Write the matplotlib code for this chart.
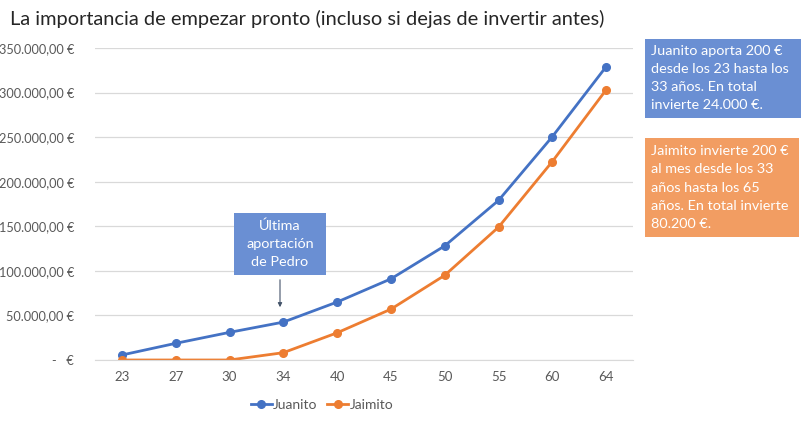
import matplotlib.pyplot as plt
from matplotlib.patches import Rectangle
from matplotlib.ticker import FuncFormatter, MultipleLocator

plt.rcParams['font.family'] = ['Lato', 'DejaVu Sans']

# edades (categorias del eje x)
edades = ['23', '27', '30', '34', '40', '45', '50', '55', '60', '64']

# capital acumulado
juanito = [5600, 18700, 31000, 42500, 65000, 91000, 128000, 179000, 250500, 329000]
jaimito = [0, 0, 0, 8200, 30500, 57000, 95000, 149000, 222600, 303000]

titulo = 'La importancia de empezar pronto (incluso si dejas de invertir antes)'
texto_juanito = 'Juanito aporta 200 €\ndesde los 23 hasta los\n33 años. En total\ninvierte 24.000 €.'
texto_jaimito = ('Jaimito invierte 200 €\nal mes desde los 33\naños hasta los 65\n'
                 'años. En total invierte\n80.200 €.')
texto_pedro = 'Última\naportación\nde Pedro'

W, H = 807, 423
fig = plt.figure(figsize=(W / 100, H / 100), dpi=100)
ax = fig.add_axes([95 / W, 1 - 360 / H, (633 - 95) / W, (360 - 48) / H])

azul = '#4472C4'
naranja = '#ED7D31'
x = range(len(edades))
ax.plot(x, juanito, color=azul, lw=2.0, marker='o', ms=5.5, label='Juanito')
ax.plot(x, jaimito, color=naranja, lw=2.0, marker='o', ms=5.5, label='Jaimito')

ax.set_xlim(-0.5, len(edades) - 0.5)
ax.set_ylim(0, 350000)
ax.set_xticks(list(x))
ax.set_xticklabels(edades)
ax.yaxis.set_major_locator(MultipleLocator(50000))


def euros(v, pos):
    if v == 0:
        return '-   €'
    s = f'{v:,.2f}'.replace(',', 'X').replace('.', ',').replace('X', '.')
    return s + ' €'


ax.yaxis.set_major_formatter(FuncFormatter(euros))
ax.grid(axis='y', color='#D9D9D9', lw=0.9)
ax.set_axisbelow(True)
for s in ['top', 'right', 'left']:
    ax.spines[s].set_visible(False)
ax.spines['bottom'].set_color('#D9D9D9')
ax.tick_params(axis='x', length=0, labelsize=9.5, colors='#595959', pad=8)
ax.tick_params(axis='y', length=0, labelsize=9.2, colors='#595959', pad=15)

fig.text(10 / W, 1 - 19 / H, titulo, fontsize=14.4, color='#262626', va='center')

leg = fig.legend(loc='center', bbox_to_anchor=(322 / W, 1 - 405 / H), ncol=2, frameon=False,
                 fontsize=10, handlelength=1.5, handletextpad=0.1, columnspacing=0.7,
                 labelcolor='#595959')


def caja(x0, y0, x1, y1, color):
    fig.patches.append(Rectangle((x0 / W, 1 - y1 / H), (x1 - x0) / W, (y1 - y0) / H,
                                 transform=fig.transFigure, facecolor=color,
                                 edgecolor='none', zorder=5))


caja(645, 39, 801, 118, '#6A8FD3')
fig.text(651 / W, 1 - 78 / H, texto_juanito, color='white', fontsize=10.4, va='center',
         linespacing=1.62, zorder=6)

caja(645, 138, 799, 237, '#F29D62')
fig.text(651 / W, 1 - 187.5 / H, texto_jaimito, color='white', fontsize=10.4, va='center',
         linespacing=1.62, zorder=6)

caja(234, 213, 326, 275, '#6A8FD3')
fig.text(280 / W, 1 - 244 / H, texto_pedro, color='white', fontsize=10.4, va='center',
         ha='center', linespacing=1.62, zorder=6)
ax.annotate('', xy=(280 / W, 1 - 310 / H), xytext=(280 / W, 1 - 277 / H),
            xycoords='figure fraction', textcoords='figure fraction',
            arrowprops=dict(arrowstyle='-|>', color='#44546A', lw=0.8, mutation_scale=6))

fig.savefig('out.png', dpi=100)
